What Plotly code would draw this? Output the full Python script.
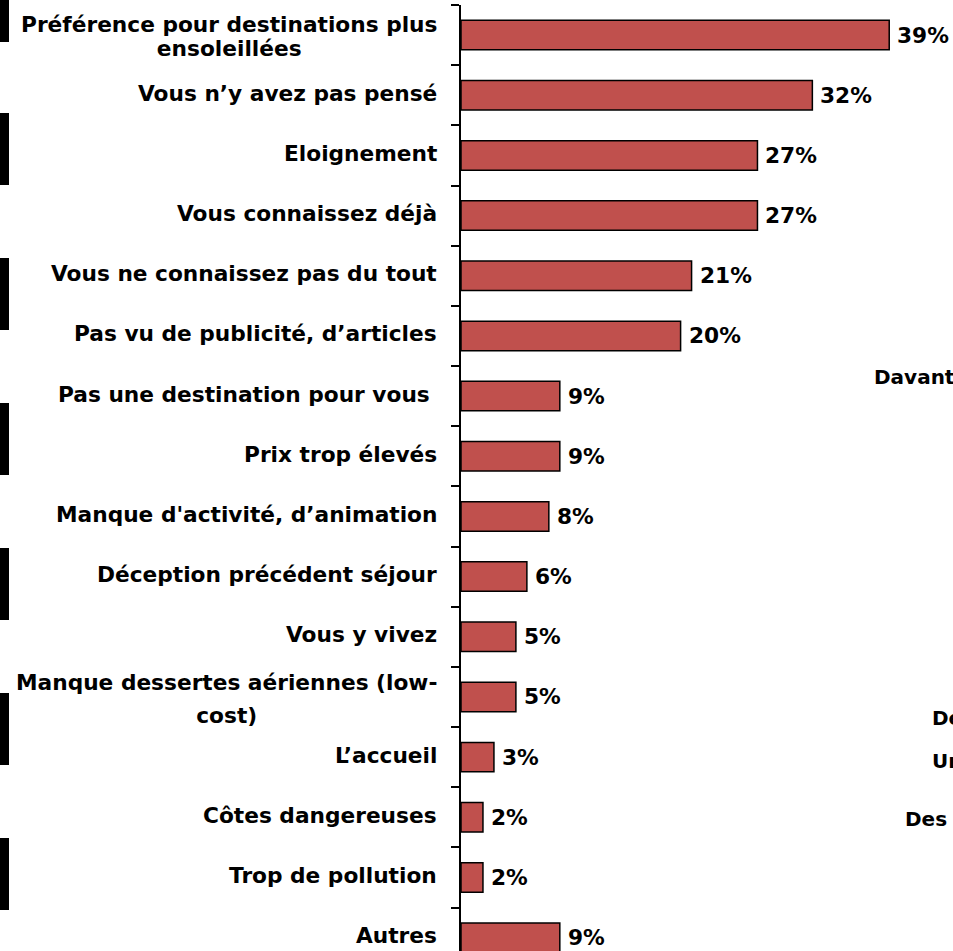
import plotly.graph_objects as go

# Survey answers, top to bottom
categories = [
    "Préférence pour destinations plus<br>ensoleillées",
    "Vous n’y avez pas pensé",
    "Eloignement",
    "Vous connaissez déjà",
    "Vous ne connaissez pas du tout",
    "Pas vu de publicité, d’articles",
    "Pas une destination pour vous ",
    "Prix trop élevés",
    "Manque d'activité, d’animation",
    "Déception précédent séjour",
    "Vous y vivez",
    "Manque dessertes aériennes (low-<br>cost)",
    "L’accueil",
    "Côtes dangereuses",
    "Trop de pollution",
    "Autres",
]
values = [39, 32, 27, 27, 21, 20, 9, 9, 8, 6, 5, 5, 3, 2, 2, 9]

# Fragments of text from the neighbouring panel, cut by the right edge
side_texts = ["Davant", "De", "Un", "Des"]

W, H = 953, 951
ML, MT = 461, 5
BAND = 60.17                      # pixel height of one category band
PX_PER_PCT = 10.98                # pixel width of one percentage point
plot_w = W - ML
plot_h = H - MT

FONT = "DejaVu Sans"
FS = 21.7
# baseline-to-baseline distance and vertical nudge of wrapped labels
WRAP_STYLE = {0: (23.5, -1), 11: (33, -2)}
idx = list(range(len(categories)))

fig = go.Figure(
    go.Bar(
        x=values,
        y=idx,
        orientation="h",
        width=0.49,
        marker=dict(color="#C0504D", line=dict(color="#000000", width=1.5)),
        hoverinfo="skip",
    )
)

annotations = []
# percentage labels to the right of each bar
for i, v in zip(idx, values):
    annotations.append(dict(
        x=v, y=i, xref="x", yref="y", text=f"{v}%", showarrow=False,
        xanchor="left", yanchor="middle", xshift=6,
        font=dict(family=FONT, size=FS, color="#000000", weight="bold"),
    ))

# category labels: right-aligned block, wrapped lines centred inside it
for i, lab in zip(idx, categories):
    lines = lab.split("<br>")
    if len(lines) > 1:
        gap, ys = WRAP_STYLE.get(i, (23, 2))
        # annotation font size sets the line pitch, the span sets glyph size
        text = "<br>".join(
            f'<span style="font-size:{FS}px">{ln}</span>' for ln in lines
        )
        size = gap / 1.3
    else:
        text, size, ys = lab, FS, 2
    annotations.append(dict(
        x=0, y=i, xref="paper", yref="y", text=text, showarrow=False,
        xanchor="right", yanchor="middle", align="center",
        xshift=-22, yshift=ys,
        font=dict(family=FONT, size=size, color="#000000", weight="bold"),
    ))


def px_to_paper_x(px):
    return (px - ML) / plot_w


def px_to_paper_y(py):
    return 1 - (py - MT) / plot_h


# side panel fragments
side_pos = [(872, 377), (930, 718), (930, 761), (903, 819)]
for t, (px, py) in zip(side_texts, side_pos):
    annotations.append(dict(
        x=px_to_paper_x(px), y=px_to_paper_y(py), xref="paper", yref="paper",
        text=t, showarrow=False, xanchor="left", yanchor="middle",
        font=dict(family=FONT, size=20, color="#000000", weight="bold"),
    ))

# black edge blocks along the left border
shapes = []
for top in [-30, 113, 258, 403, 548, 693, 838]:
    shapes.append(dict(
        type="rect", xref="paper", yref="paper",
        x0=px_to_paper_x(0), x1=px_to_paper_x(9),
        y0=px_to_paper_y(top), y1=px_to_paper_y(top + 72),
        fillcolor="#000000", line=dict(width=0), layer="above",
    ))

fig.update_layout(
    width=W, height=H,
    margin=dict(l=ML, r=0, t=MT, b=0, pad=0),
    paper_bgcolor="#FFFFFF", plot_bgcolor="#FFFFFF",
    showlegend=False,
    annotations=annotations,
    shapes=shapes,
    xaxis=dict(range=[0, plot_w / PX_PER_PCT], visible=False, fixedrange=True),
    yaxis=dict(
        range=[-0.5 + plot_h / BAND, -0.5],
        tickmode="array",
        tickvals=[i - 0.5 for i in idx] + [len(idx) - 0.5],
        showticklabels=False,
        ticks="outside", ticklen=8, tickwidth=2, tickcolor="#000000",
        showline=True, linecolor="#000000", linewidth=2,
        showgrid=False, zeroline=False, fixedrange=True,
    ),
)

fig.write_html("out.html")
